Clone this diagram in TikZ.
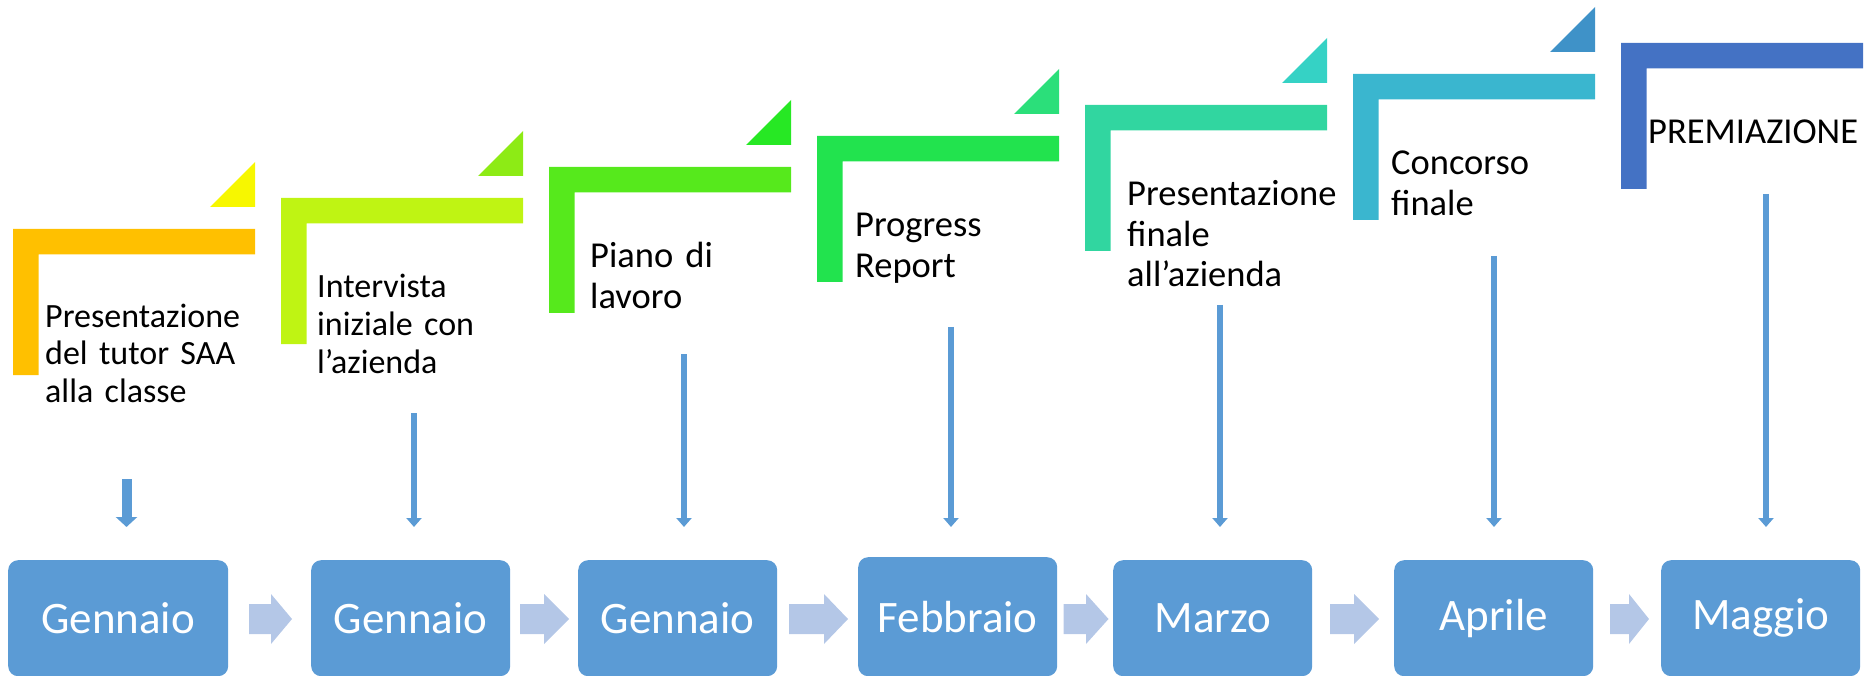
\documentclass[tikz,border=0pt]{standalone}
\usepackage{fontspec}
\setmainfont{Carlito}
\usetikzlibrary{arrows.meta}
\definecolor{barA}{HTML}{FFC000}
\definecolor{triA}{HTML}{F7F700}
\definecolor{barB}{HTML}{BFF413}
\definecolor{triB}{HTML}{8DEB15}
\definecolor{barC}{HTML}{56E91C}
\definecolor{triC}{HTML}{27E824}
\definecolor{barD}{HTML}{22E34E}
\definecolor{triD}{HTML}{2BDF7A}
\definecolor{barE}{HTML}{31D6A0}
\definecolor{triE}{HTML}{35D2C5}
\definecolor{barF}{HTML}{3AB6CF}
\definecolor{triF}{HTML}{3F92C8}
\definecolor{barG}{HTML}{4472C4}
\definecolor{boxblue}{HTML}{5B9BD5}
\definecolor{chev}{HTML}{B4C7E7}
\tikzset{
  monthbox/.style={fill=boxblue, rounded corners=10pt, anchor=north west, inner sep=0pt,
    minimum width=199pt, minimum height=116pt, text=white, font=\fontsize{45}{54}\selectfont},
  labsmall/.style={anchor=base west, inner sep=0pt, align=left, text width=260pt,
    font=\fontsize{34}{37.7}\selectfont},
  labbig/.style={anchor=base west, inner sep=0pt, align=left, text width=260pt,
    font=\fontsize{36.5}{40.5}\selectfont},
  thickarr/.style={draw=boxblue, line width=10pt, -{Triangle[width=21pt,length=10pt]}},
  thinarr/.style={draw=boxblue, line width=6pt, -{Triangle[width=15pt,length=9pt]}},
  chevfill/.style={fill=chev}
}
\begin{document}
\begin{tikzpicture}[x=1pt,y=-1pt]
\useasboundingbox (0,0) rectangle (1874,676);
% brackets and triangles
\foreach \i/\bc/\tc in {0/barA/triA,1/barB/triB,2/barC/triC,3/barD/triD,4/barE/triE,5/barF/triF,6/barG/none}{
  \pgfmathsetmacro\xo{13+268*\i}
  \pgfmathsetmacro\yo{229-31*\i}
  \fill[\bc] (\xo,\yo) -- ++(242,0) -- ++(0,25.5) -- ++(-216.5,0) -- ++(0,120.5) -- ++(-25.5,0) -- cycle;
  \ifnum\i<6
    \fill[\tc] (\xo+197,\yo-22) -- (\xo+242,\yo-22) -- (\xo+242,\yo-67) -- cycle;
  \fi
}
% labels
\node[labsmall] (t1) at (45,327) {Presentazione\\del tutor SAA\\alla classe};
\node[labsmall] (t2) at (317,298) {Intervista\\iniziale con\\l’azienda};
\node[labbig] (t3) at (590,268) {Piano di\\lavoro};
\node[labbig] (t4) at (855,237) {Progress\\Report};
\node[labbig] (t5) at (1127,206) {Presentazione\\finale\\all’azienda};
\node[labbig] (t6) at (1391,175) {Concorso\\finale};
\node[labbig] (t7) at (1648,144) {PREMIAZIONE};
% month boxes
\node[monthbox, minimum width=220pt] (m1) at (8,560) {Gennaio};
\node[monthbox] (m2) at (311,560) {Gennaio};
\node[monthbox] (m3) at (578,560) {Gennaio};
\node[monthbox, minimum height=119pt] (m4) at (858,557) {Febbraio};
\node[monthbox] (m5) at (1113,560) {Marzo};
\node[monthbox] (m6) at (1394,560) {Aprile};
\node[monthbox] (m7) at (1661,560) {Maggio};
% vertical arrows
\coordinate (s1) at (126.5,479); \coordinate (e1) at (126.5,527);
\coordinate (s2) at (414,413);   \coordinate (e2) at (414,527);
\coordinate (s3) at (684,354);   \coordinate (e3) at (684,527);
\coordinate (s4) at (951,327);   \coordinate (e4) at (951,527);
\coordinate (s5) at (1220,305);  \coordinate (e5) at (1220,527);
\coordinate (s6) at (1494,256);  \coordinate (e6) at (1494,527);
\coordinate (s7) at (1766,194);  \coordinate (e7) at (1766,527);
\draw[thickarr] (s1) -- (e1);
\foreach \k in {2,...,7}{\draw[thinarr] (s\k) -- (e\k);}
% chevrons between boxes
\foreach \a/\b/\c in {249/271/292, 520/544/569, 789/824/848, 1063.5/1086/1108.5, 1330/1354/1379, 1610/1629/1649}{
  \fill[chevfill] (\a,604) -- (\b,604) -- (\b,594) -- (\c,619) -- (\b,644) -- (\b,634) -- (\a,634) -- cycle;
}
\end{tikzpicture}
\end{document}
